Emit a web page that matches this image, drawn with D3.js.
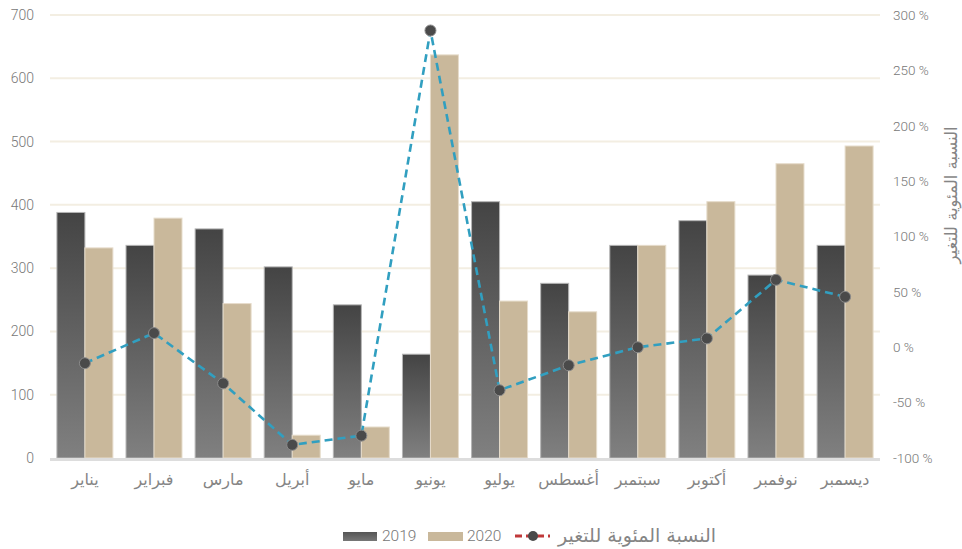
<!DOCTYPE html>
<html lang="ar">
<head>
<meta charset="utf-8">
<script src="https://cdn.jsdelivr.net/npm/d3@7/dist/d3.min.js"></script>
<style>
  html, body { margin: 0; padding: 0; background: #ffffff; }
  svg { display: block; }
  .num { font-family: Roboto, "Liberation Sans", sans-serif; font-weight: 300; fill: #777; }
  .ar { font-family: "DejaVu Sans", sans-serif; fill: #858585; }
</style>
</head>
<body>
<svg id="chart" width="962" height="549"></svg>
<script>
// Monthly counts, 2019 vs 2020, with percentage change
const months = ["يناير", "فبراير", "مارس", "أبريل", "مايو", "يونيو", "يوليو", "أغسطس", "سبتمبر", "أكتوبر", "نوفمبر", "ديسمبر"];
const values2019 = [388, 336, 362, 302, 242, 164, 405, 276, 336, 375, 289, 336];
const values2020 = [332, 379, 244, 36, 49, 637, 248, 231, 336, 405, 465, 493];
const pctChange = [-14.4, 12.8, -32.6, -88.1, -79.8, 286, -38.8, -16.3, 0, 8.0, 60.9, 45.5];
const leftTicks = [0, 100, 200, 300, 400, 500, 600, 700];
const rightTicks = [-100, -50, 0, 50, 100, 150, 200, 250, 300];
const seriesNames = ["2019", "2020"];
const lineName = "النسبة المئوية للتغير";

const svg = d3.select("#chart");
const plot = { left: 50, right: 880, top: 15, bottom: 458 };

const x = d3.scaleBand().domain(months).range([plot.left, plot.right])
  .paddingInner(0.19).paddingOuter(0.1);
const xSub = d3.scaleBand().domain(seriesNames).range([0, x.bandwidth()]);
const yLeft = d3.scaleLinear().domain([0, 700]).range([plot.bottom, plot.top]);
const yRight = d3.scaleLinear().domain([-100, 300]).range([plot.bottom, plot.top]);

// gradient fill for 2019 bars
const defs = svg.append("defs");
const grad = defs.append("linearGradient").attr("id", "g2019")
  .attr("x1", 0).attr("y1", 0).attr("x2", 0).attr("y2", 1);
grad.append("stop").attr("offset", "0%").attr("stop-color", "#444444");
grad.append("stop").attr("offset", "100%").attr("stop-color", "#808080");
const gradH = defs.append("linearGradient").attr("id", "g2019h")
  .attr("x1", 0).attr("y1", 0).attr("x2", 0).attr("y2", 1);
gradH.append("stop").attr("offset", "0%").attr("stop-color", "#555");
gradH.append("stop").attr("offset", "100%").attr("stop-color", "#777");

// gridlines
svg.append("g").selectAll("line").data(leftTicks.filter(d => d > 0)).join("line")
  .attr("x1", plot.left).attr("x2", plot.right)
  .attr("y1", d => yLeft(d)).attr("y2", d => yLeft(d))
  .attr("stroke", "#f3eee2").attr("stroke-width", 2);

// left axis
const leftAxis = svg.append("g").attr("transform", `translate(${plot.left - 16},0)`)
  .call(d3.axisLeft(yLeft).tickValues(leftTicks).tickSize(0).tickPadding(0));
leftAxis.select(".domain").remove();
leftAxis.selectAll("text").attr("class", "num").attr("font-size", 14).attr("fill", "#777")
  .attr("font-family", null);

// right axis
const rightAxis = svg.append("g").attr("transform", `translate(${plot.right + 13},0)`)
  .call(d3.axisRight(yRight).tickValues(rightTicks).tickSize(0).tickPadding(0)
    .tickFormat(d => `${d} %`));
rightAxis.select(".domain").remove();
rightAxis.selectAll("text").attr("class", "num").attr("font-size", 13.5).attr("fill", "#777")
  .attr("font-family", null);

// right axis title
svg.append("text").attr("class", "ar")
  .attr("transform", `translate(952,195) rotate(-90)`)
  .attr("text-anchor", "middle").attr("dominant-baseline", "middle")
  .attr("font-size", 16.5).text(lineName);

// bars
const groups = svg.append("g").selectAll("g").data(months).join("g")
  .attr("transform", d => `translate(${x(d)},0)`);
groups.append("rect")
  .attr("x", xSub("2019")).attr("width", xSub.bandwidth())
  .attr("y", (d, i) => yLeft(values2019[i]))
  .attr("height", (d, i) => yLeft(0) - yLeft(values2019[i]))
  .attr("fill", "url(#g2019)").attr("stroke", "#b5b5b5").attr("stroke-width", 1);
groups.append("rect")
  .attr("x", xSub("2020")).attr("width", xSub.bandwidth())
  .attr("y", (d, i) => yLeft(values2020[i]))
  .attr("height", (d, i) => yLeft(0) - yLeft(values2020[i]))
  .attr("fill", "#c9b89b").attr("stroke", "#e6dccb").attr("stroke-width", 1);

// baseline
svg.append("line").attr("x1", plot.left).attr("x2", plot.right)
  .attr("y1", plot.bottom + 1.5).attr("y2", plot.bottom + 1.5)
  .attr("stroke", "#dddddd").attr("stroke-width", 3);

// x labels
svg.append("g").selectAll("text").data(months).join("text")
  .attr("class", "ar").attr("font-size", 16)
  .attr("x", d => x(d) + x.bandwidth() / 2).attr("y", 485)
  .attr("text-anchor", "middle").text(d => d);

// percentage change line
const cx = d => x(d) + x.bandwidth() / 2;
const line = d3.line().x((d, i) => cx(months[i])).y(d => yRight(d));
svg.append("path").datum(pctChange).attr("d", line)
  .attr("fill", "none").attr("stroke", "#319fc0").attr("stroke-width", 2.6)
  .attr("stroke-dasharray", "8,5");
svg.append("g").selectAll("circle").data(pctChange).join("circle")
  .attr("cx", (d, i) => cx(months[i])).attr("cy", d => yRight(d)).attr("r", 5.5)
  .attr("fill", "#4a4a4a").attr("stroke", "#8a8a8a").attr("stroke-width", 1);

// legend
const lg = svg.append("g");
lg.append("rect").attr("x", 343).attr("y", 532).attr("width", 34).attr("height", 9).attr("fill", "url(#g2019h)");
lg.append("text").attr("class", "num").attr("x", 382).attr("y", 541).attr("font-size", 15.5).text(seriesNames[0]);
lg.append("rect").attr("x", 428).attr("y", 532).attr("width", 35).attr("height", 9).attr("fill", "#c9b89b");
lg.append("text").attr("class", "num").attr("x", 467).attr("y", 541).attr("font-size", 15.5).text(seriesNames[1]);
lg.append("line").attr("x1", 515).attr("x2", 550).attr("y1", 536).attr("y2", 536)
  .attr("stroke", "#c0393a").attr("stroke-width", 3).attr("stroke-dasharray", "7,4");
lg.append("circle").attr("cx", 533).attr("cy", 536).attr("r", 5).attr("fill", "#4a4a4a");
lg.append("text").attr("class", "ar").attr("x", 716).attr("y", 542).attr("text-anchor", "end")
  .attr("font-size", 19).text(lineName);
</script>
</body>
</html>
